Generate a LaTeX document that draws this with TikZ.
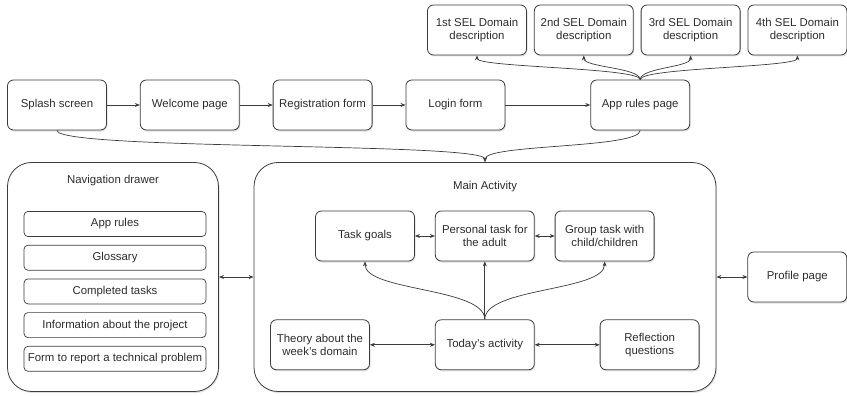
\documentclass[tikz,border=0pt]{standalone}
\usepackage{fontspec}
\setsansfont{Liberation Sans}
\usetikzlibrary{arrows.meta, positioning, shadows}
\definecolor{linegray}{RGB}{60, 60, 60}
\definecolor{textgray}{RGB}{45, 45, 45}

\begin{document}
\begin{tikzpicture}[x=1pt, y=-1pt,
  every node/.style={font=\fontsize{11.4}{13}\selectfont\sffamily, text=textgray},
  screen/.style={rectangle, rounded corners=6pt, draw=linegray, fill=white, line width=0.8pt,
                 minimum width=99pt, minimum height=50pt, align=center,
                 drop shadow={opacity=0.25, shadow xshift=1pt, shadow yshift=-1.5pt}},
  panel/.style={screen, rounded corners=24pt},
  menuitem/.style={rectangle, rounded corners=4pt, draw=linegray, fill=white, line width=0.7pt,
                   minimum width=182pt, minimum height=25pt},
  arr/.style={-{Stealth[length=5pt, width=4pt]}, line width=0.7pt, linegray},
  darr/.style={{Stealth[length=5pt, width=4pt]}-{Stealth[length=5pt, width=4pt]}, line width=0.7pt, linegray},
  node distance=33pt
]
\useasboundingbox (0,0) rectangle (847,396);

% top row
\node[screen] (splash) at (57,105) {Splash screen};
\node[screen, right=of splash] (welcome) {Welcome page};
\node[screen, right=of welcome] (regform) {Registration form};
\node[screen, right=of regform] (login) {Login form};
\node[screen, right=85pt of login] (rules) {App rules page};

% SEL domains
\node[screen] (sel1) at (477,30) {1st SEL Domain\\description};
\node[screen, right=7pt of sel1] (sel2) {2nd SEL Domain\\description};
\node[screen, right=7pt of sel2] (sel3) {3rd SEL Domain\\description};
\node[screen, right=7pt of sel3] (sel4) {4th SEL Domain\\description};

% containers
\node[panel, minimum width=211pt, minimum height=229pt] (drawer) at (113,277) {};
\node[panel, minimum width=462pt, minimum height=229pt] (main) at (485,277) {};
\node (drawertitle) at (113,181) {Navigation drawer};
\node (maintitle) at (485,187) {Main Activity};

% drawer items
\node[menuitem] (itrules) at (115,224) {App rules};
\node[menuitem, below=8pt of itrules] (itglossary) {Glossary};
\node[menuitem, below=8pt of itglossary] (itcompleted) {Completed tasks};
\node[menuitem, below=8pt of itcompleted] (itinfo) {Information about the project};
\node[menuitem, below=8pt of itinfo] (itreport) {Form to report a technical problem};

% main activity content
\node[screen] (goals) at (365,236) {Task goals};
\node[screen, right=20pt of goals] (personal) {Personal task for\\the adult};
\node[screen, right=20pt of personal] (group) {Group task with\\child/children};
\node[screen, below=58pt of personal] (today) {Today's activity};
\node[screen, left=65pt of today] (theory) {Theory about the\\week's domain};
\node[screen, right=65pt of today] (reflection) {Reflection\\questions};

\node[screen, right=31pt of main] (profile) {Profile page};

% flow
\draw[arr] (splash) -- (welcome);
\draw[arr] (welcome) -- (regform);
\draw[arr] (regform) -- (login);
\draw[arr] (login) -- (rules);

\draw[arr] (rules.north) .. controls +(0,-12) and +(0,12) .. (sel1.south);
\draw[arr] (rules.north) .. controls +(0,-12) and +(0,12) .. (sel2.south);
\draw[arr] (rules.north) .. controls +(0,-12) and +(0,12) .. (sel3.south);
\draw[arr] (rules.north) .. controls +(0,-12) and +(0,12) .. (sel4.south);

\draw[arr] (splash.south) .. controls +(0,20) and +(0,-20) .. (main.north);
\draw[arr] (rules.south) .. controls +(0,18) and +(0,-18) .. (main.north);

\draw[darr] (drawer) -- (main);
\draw[darr] (main) -- (profile);

\draw[darr] (goals) -- (personal);
\draw[darr] (personal) -- (group);
\draw[darr] (theory) -- (today);
\draw[darr] (today) -- (reflection);

\draw[arr] (today.north) .. controls +(0,-32) and +(0,30) .. (goals.south);
\draw[arr] (today) -- (personal);
\draw[arr] (today.north) .. controls +(0,-32) and +(0,30) .. (group.south);
\end{tikzpicture}
\end{document}
